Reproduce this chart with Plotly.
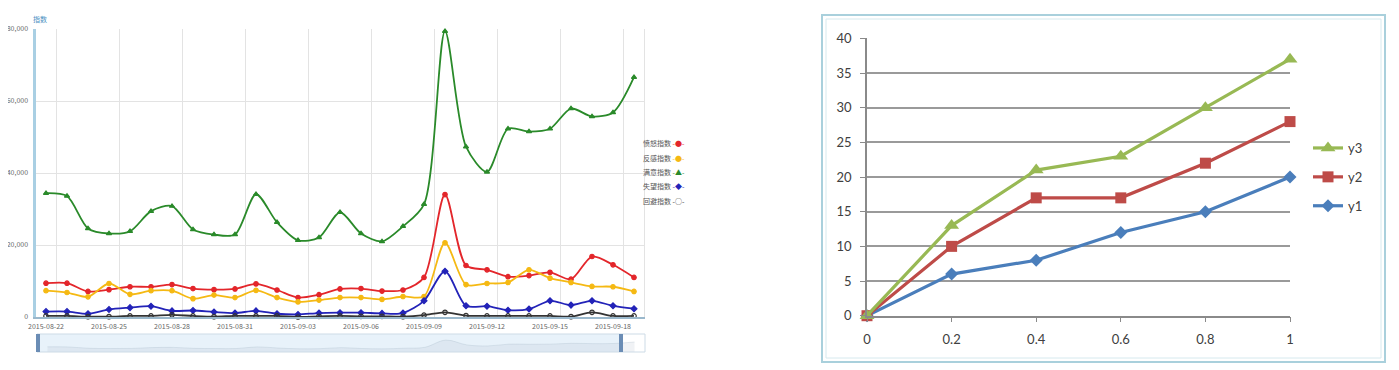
import pandas as pd
import plotly.graph_objects as go

# The page body adds an 8px margin, so the figure is 8px smaller and all
# reference pixel positions are shifted by 8px.
OFF = 8
W, H = 1399 - OFF, 370 - OFF

# ---------------- data: left chart ----------------
dates = pd.date_range("2015-08-22", periods=29, freq="D")
series_names = ["愤怒指数", "反感指数", "满意指数", "失望指数", "回避指数"]
anger = [9400, 9400, 7100, 7600, 8400, 8400, 9000, 7900, 7600, 7800, 9200, 7500, 5400, 6200, 7800,
         7900, 7200, 7500, 11000, 34000, 14300, 13100, 11200, 11500, 12400, 10500, 16800, 14500, 11000]
aversion = [7300, 6800, 5600, 9300, 6300, 7300, 7300, 5100, 6100, 5400, 7400, 5400, 4200, 4700, 5400,
            5400, 4900, 5700, 5700, 20600, 9000, 9300, 9600, 13100, 10800, 9600, 8500, 8400, 7100]
satisfied = [34400, 33600, 24600, 23200, 23800, 29400, 30800, 24300, 22900, 22900, 34100, 26300, 21300, 22100, 29100,
             23200, 21000, 25200, 31300, 79400, 47300, 40300, 52300, 51500, 52300, 57900, 55700, 56800, 66600]
disappointed = [1500, 1500, 900, 2100, 2600, 3000, 1700, 1800, 1400, 1100, 1700, 900, 700, 1100, 1200,
                1200, 1000, 1100, 4500, 12700, 3100, 3000, 1900, 2200, 4500, 3300, 4500, 3100, 2300]
avoid = [300, 300, 100, 100, 300, 300, 600, 300, 100, 300, 300, 300, 0, 200, 300,
         200, 200, 100, 500, 1300, 400, 300, 300, 300, 300, 100, 1300, 300, 300]
left_values = [anger, aversion, satisfied, disappointed, avoid]
y_ticks_left = [0, 20000, 40000, 60000, 80000]

# ---------------- data: right chart ----------------
x_right = [0, 0.2, 0.4, 0.6, 0.8, 1]
y1 = [0, 6, 8, 12, 15, 20]
y2 = [0, 10, 17, 17, 22, 28]
y3 = [0, 13, 21, 23, 30, 37]
right_names = ["y1", "y2", "y3"]

# ---------------- styles ----------------
left_colors = ["#e3262b", "#f5b913", "#2a8a2a", "#2323b8", "#333333"]
left_symbols = ["circle", "circle", "triangle-up", "diamond", "circle-open"]
left_legend_glyph = ["●", "●", "▲", "◆", "○"]
right_colors = ["#4a7ebb", "#be4b48", "#98b954"]
right_symbols = ["diamond", "square", "triangle-up"]
right_sizes = [10, 11, 13]
right_ranks = [3, 2, 1]


def px(xp):
    return (xp - OFF) / W


def py(yp):
    return 1 - (yp - OFF) / H


fig = go.Figure()

for name, vals, c, s in zip(series_names, left_values, left_colors, left_symbols):
    fig.add_trace(go.Scatter(
        x=dates, y=vals, name=name, mode="lines+markers",
        line=dict(color=c, width=1.8, shape="spline", smoothing=0.8),
        marker=dict(color=c, size=4.5, symbol=s, line=dict(color=c, width=1.2)),
        xaxis="x", yaxis="y", showlegend=False, cliponaxis=False,
    ))

# slider mini series
fig.add_trace(go.Scatter(
    x=dates, y=satisfied, mode="lines", line=dict(color="rgba(150,170,190,0.3)", width=0.8, shape="spline"),
    fill="tozeroy", fillcolor="rgba(170,185,200,0.18)", xaxis="x2", yaxis="y2", showlegend=False,
    hoverinfo="skip",
))

# right chart
for name, vals, c, s, sz, rk in zip(right_names, [y1, y2, y3], right_colors, right_symbols, right_sizes, right_ranks):
    fig.add_trace(go.Scatter(
        x=x_right, y=vals, name=name, mode="lines+markers",
        line=dict(color=c, width=3.2),
        marker=dict(color=c, size=sz, symbol=s),
        xaxis="x4", yaxis="y4", cliponaxis=False, legendgroup=name, legendrank=rk,
    ))

left_dom_x = [px(35.5), px(644.5)]
date_range = ["2015-08-21 12:00", "2015-09-19 12:00"]
fig.update_layout(
    width=W, height=H,
    margin=dict(l=0, r=0, t=0, b=0, autoexpand=False),
    paper_bgcolor="white", plot_bgcolor="rgba(0,0,0,0)",
    font=dict(family="Noto Sans CJK SC, Liberation Sans, sans-serif"),
    xaxis=dict(
        domain=left_dom_x, anchor="y", type="date", range=date_range, automargin=False,
        tickmode="linear", tick0="2015-08-22", dtick=3 * 86400000,
        tickformat="%Y-%m-%d", showgrid=False, zeroline=False,
        showline=True, linecolor="#9ab8cc", linewidth=2,
        ticks="", tickfont=dict(size=7, color="#666"), ticklabelstandoff=2,
        minor=dict(tickmode="linear", tick0="2015-08-22 12:00", dtick=3 * 86400000,
                   showgrid=True, gridcolor="#e3e3e3", gridwidth=1, ticks=""),
    ),
    yaxis=dict(
        domain=[py(317), py(29)], anchor="x", range=[0, 80000], automargin=False,
        tickvals=y_ticks_left, tickformat=",", showgrid=True, gridcolor="#e3e3e3",
        zeroline=False, showline=True, linecolor="#a9cfe3", linewidth=3,
        ticks="", tickfont=dict(size=7, color="#666"), ticklabelstandoff=3,
    ),
    xaxis2=dict(
        domain=[px(37), px(645)], anchor="y2", type="date", range=date_range, automargin=False,
        showgrid=False, showticklabels=False, zeroline=False, showline=False, ticks="",
    ),
    yaxis2=dict(
        domain=[py(352), py(334)], anchor="x2", range=[0, 120000], automargin=False,
        showgrid=False, showticklabels=False, zeroline=False, showline=False, ticks="",
    ),
    xaxis4=dict(
        domain=[px(867), px(1290)], anchor="y4", range=[0, 1], automargin=False,
        tickmode="linear", tick0=0, dtick=0.2,
        showgrid=False, zeroline=False, showline=True, linecolor="#8a8a8a", linewidth=1.5,
        ticks="outside", ticklen=5, tickcolor="#8a8a8a", tickwidth=1.2,
        tickfont=dict(family="Lato, Liberation Sans, sans-serif", size=13, color="#404040"),
        ticklabelstandoff=6,
    ),
    yaxis4=dict(
        domain=[py(315.7), py(38.4)], anchor="x4", range=[0, 40], automargin=False,
        tickmode="linear", tick0=0, dtick=5,
        showgrid=True, gridcolor="#9a9a9a", gridwidth=1.5, zeroline=False,
        showline=True, linecolor="#8a8a8a", linewidth=1.5,
        ticks="outside", ticklen=5, tickcolor="#8a8a8a", tickwidth=1.2,
        tickfont=dict(family="Lato, Liberation Sans, sans-serif", size=13, color="#404040"),
        ticklabelstandoff=6,
    ),
    legend=dict(
        x=px(1308), y=py(133), xanchor="left", yanchor="top",
        traceorder="grouped", tracegroupgap=9,
        font=dict(family="Lato, Liberation Sans, sans-serif", size=13, color="#404040"),
        bgcolor="rgba(0,0,0,0)", itemwidth=30,
    ),
)

shapes = [
    # slider background
    dict(type="rect", xref="paper", yref="paper", x0=px(37), x1=px(621), y0=py(352), y1=py(334),
         fillcolor="#e8f2fa", line=dict(width=0), layer="below"),
    dict(type="rect", xref="paper", yref="paper", x0=px(37), x1=px(645), y0=py(352), y1=py(334),
         fillcolor="rgba(0,0,0,0)", line=dict(color="#cddbe6", width=1), layer="above"),
    dict(type="rect", xref="paper", yref="paper", x0=px(36), x1=px(40), y0=py(352), y1=py(334),
         fillcolor="#6b8db5", line=dict(width=0)),
    dict(type="rect", xref="paper", yref="paper", x0=px(619), x1=px(623), y0=py(352), y1=py(334),
         fillcolor="#6b8db5", line=dict(width=0)),
    # right border of the left plot area
    dict(type="line", xref="paper", yref="paper", x0=px(644.5), x1=px(644.5), y0=py(317), y1=py(29),
         line=dict(color="#e3e3e3", width=1), layer="below"),
    # right chart frame
    dict(type="rect", xref="paper", yref="paper", x0=px(822), x1=px(1385), y0=py(362), y1=py(15),
         fillcolor="rgba(0,0,0,0)", line=dict(color="#a9d0dc", width=2), layer="below"),
    dict(type="rect", xref="paper", yref="paper", x0=px(826), x1=px(1381), y0=py(358), y1=py(19),
         fillcolor="rgba(0,0,0,0)", line=dict(color="#d6e9ee", width=1), layer="below"),
]

annotations = [
    dict(text="指数", xref="paper", yref="paper", x=px(40), y=py(19), xanchor="center", yanchor="middle",
         showarrow=False, font=dict(size=7, color="#4a8fc2")),
]
legend_y = [143, 158, 172, 186, 201]
for name, c, g, yy in zip(series_names, left_colors, left_legend_glyph, legend_y):
    annotations.append(dict(
        text=f"{name} <span style='color:{c}'>-{g}-</span>",
        xref="paper", yref="paper", x=px(687), y=py(yy), xanchor="right", yanchor="middle",
        showarrow=False, font=dict(size=7, color="#555"),
    ))

fig.update_layout(shapes=shapes, annotations=annotations)
fig.write_html("out.html")
